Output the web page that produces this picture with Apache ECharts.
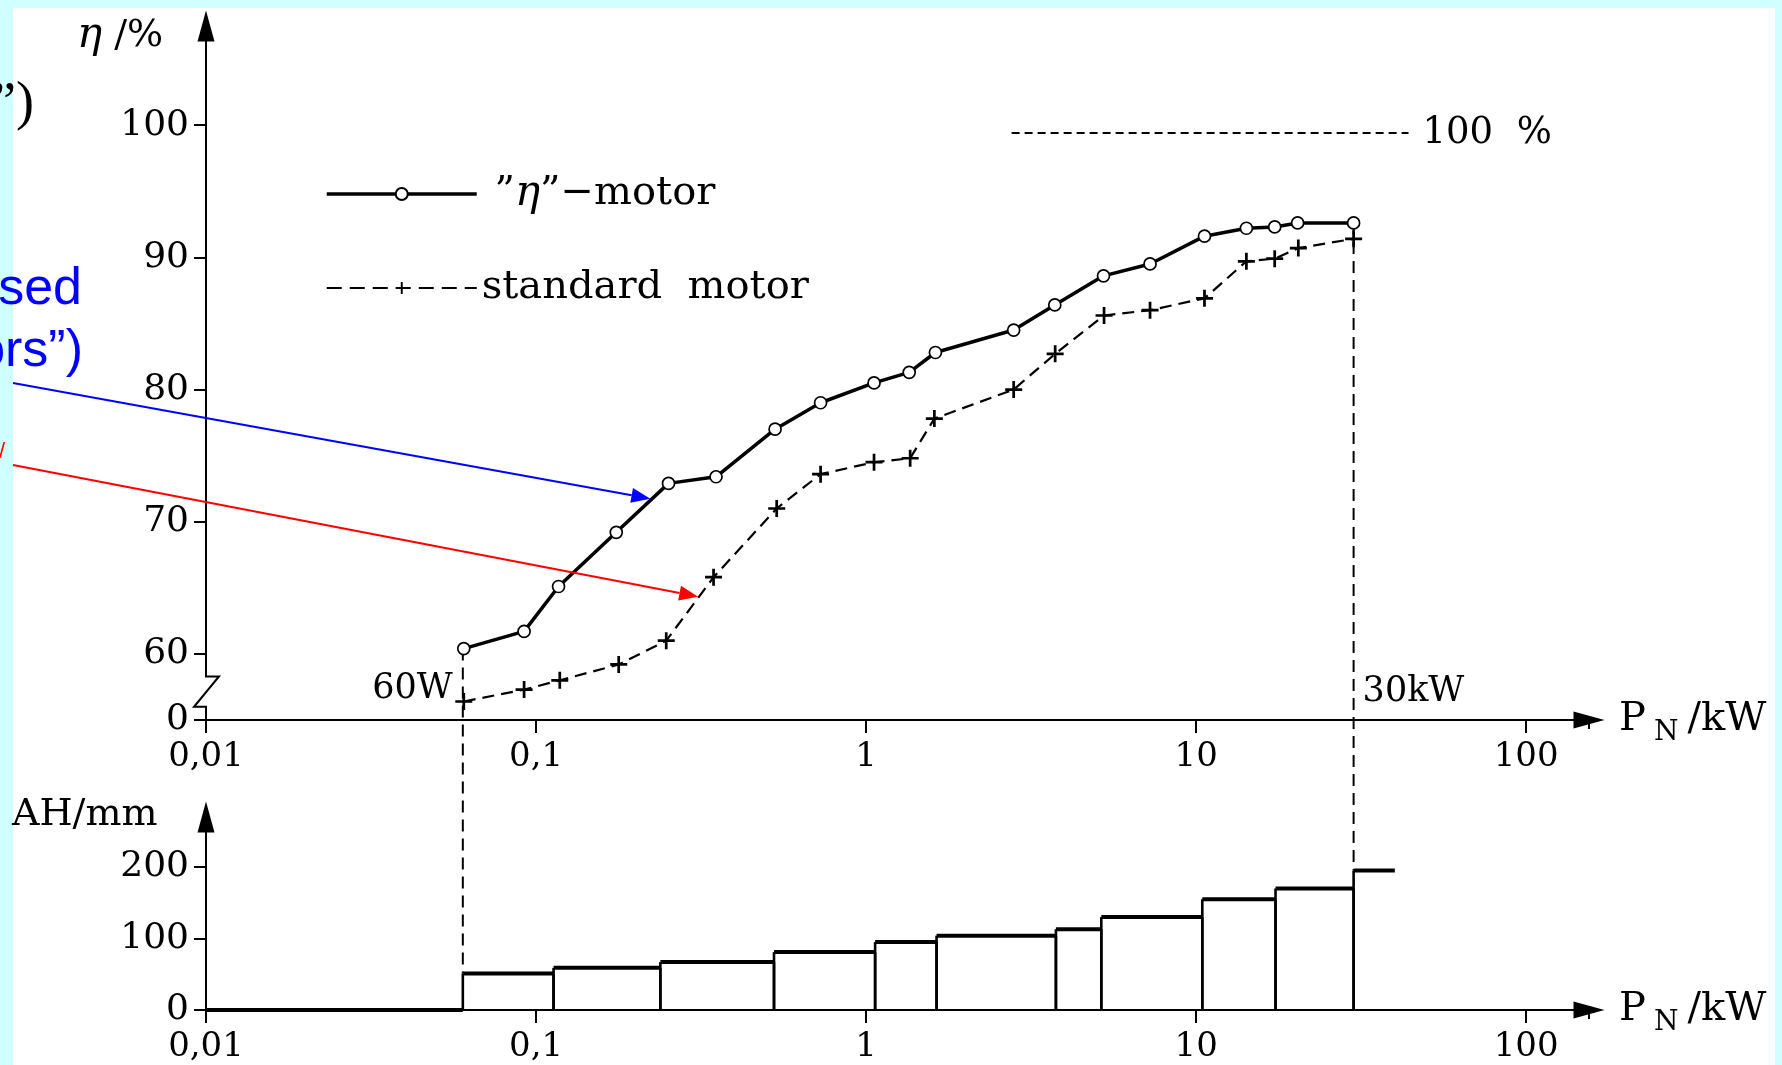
<!DOCTYPE html>
<html><head><meta charset="utf-8">
<script src="https://cdn.jsdelivr.net/npm/echarts@6/dist/echarts.min.js"></script>
<style>html,body{margin:0;padding:0;background:#d0ffff}#c{width:1782px;height:1065px}</style>
</head><body><div id="c"></div>
<script>
// ---- data ----
const etaPower  = [0.0604,0.092,0.117,0.175,0.252,0.351,0.530,0.728,1.057,1.351,1.622,2.80,3.73,5.24,7.25,10.6,14.2,17.3,20.3,30];
const etaValues = [60.4,61.7,65.1,69.2,72.9,73.4,77.0,79.0,80.5,81.3,82.8,84.5,86.4,88.6,89.5,91.6,92.2,92.3,92.6,92.6];
const stdPower  = [0.0604,0.092,0.118,0.178,0.248,0.345,0.536,0.728,1.057,1.36,1.61,2.80,3.74,5.26,7.25,10.6,14.2,17.3,20.4,30];
const stdValues = [56.4,57.3,58.0,59.2,61.0,65.8,71.0,73.6,74.5,74.8,77.8,80.0,82.7,85.6,86.0,86.9,89.7,89.9,90.7,91.4];
const ahEdges   = [0.01,0.06,0.113,0.238,0.526,1.065,1.635,3.76,5.16,10.44,17.4,30,40];
const ahValues  = [0,51,59,67,81,95,104,113,130,155,170,195];
const xTickLabels = {'-2':'0,01','-1':'0,1','0':'1','1':'10','2':'100'};
const etaTicks = [55,60,70,80,90,100];   // 55 is the broken-axis origin, labelled "0"
const ahTicks  = [0,100,200];
const refPower = [2.76,44];
const refValue = 99.4;
const minPower = 0.06, maxPower = 30;
const xMax = 155;

const FONT = "'DejaVu Serif',serif";
const chart = echarts.init(document.getElementById('c'), null, {renderer:'canvas', width:1782, height:1065});

const xFmt = v => { const l = Math.round(Math.log10(v)*1000)/1000; return xTickLabels[String(l)] ?? ''; };
const axisLineStyle = {color:'#000', width:2};
function xAx(g){
  return {type:'log', logBase:10, gridIndex:g, min:0.01, max:xMax,
    axisLine:{show:true, onZero:false, lineStyle:axisLineStyle, symbol:['none','triangle'], symbolSize:[17,31]},
    axisTick:{show:true, length:13, lineStyle:axisLineStyle},
    axisLabel:{formatter:xFmt, fontFamily:FONT, fontSize:34, color:'#000', margin:20},
    splitLine:{show:false}, minorTick:{show:false}, minorSplitLine:{show:false},
    name:'P{s|N}/kW', nameLocation:'end', nameGap:30,
    nameTextStyle:{fontFamily:FONT, fontSize:40, color:'#000', lineHeight:54,
      rich:{s:{fontFamily:FONT, fontSize:28, color:'#000', verticalAlign:'bottom', lineHeight:28, padding:[0,9,0,8]}}}
  };
}
function yAx(g, min, max, ticks, fmt){
  return {type:'value', gridIndex:g, min:min, max:max,
    axisLine:{show:true, onZero:false, lineStyle:axisLineStyle, symbol:['none','triangle'], symbolSize:[17,31]},
    axisTick:{show:true, customValues:ticks, length:12, lineStyle:axisLineStyle},
    axisLabel:{customValues:ticks, formatter:fmt, fontFamily:FONT, fontSize:36, color:'#000', margin:17},
    splitLine:{show:false}};
}
const plusPath = 'path://M4.2,0H5.8V4.2H10V5.8H5.8V10H4.2V5.8H0V4.2H4.2Z';

chart.setOption({
  animation:false,
  backgroundColor:'#d0ffff',
  grid:[{left:206, top:26, width:1383, height:694, containLabel:false, outerBoundsMode:'none'},
        {left:206, top:817, width:1383, height:193, containLabel:false, outerBoundsMode:'none'}],
  xAxis:[xAx(0), xAx(1)],
  yAxis:[yAx(0,55,107.5,etaTicks,v=>v===55?'0':String(v)), yAx(1,0,270,ahTicks,v=>String(v))],
  legend:{data:[{name:'eta', lineStyle:{width:3.5}}, {name:'std', lineStyle:{width:2.2, type:[15,8]}}],
    orient:'vertical', left:325, top:173, itemWidth:150, itemHeight:15, itemGap:53,
    padding:0, selectedMode:false,
    formatter:n => n==='eta' ? ' ”{i|η}”−motor' : 'standard  motor',
    textStyle:{fontFamily:FONT, fontSize:40, color:'#000', lineHeight:40,
      rich:{i:{fontFamily:FONT, fontStyle:'italic', fontSize:42, color:'#000', lineHeight:40}}}},
  series:[
    {name:'eta', type:'line', xAxisIndex:0, yAxisIndex:0, z:4,
     data:etaPower.map((p,i)=>[p,etaValues[i]]),
     symbol:'circle', symbolSize:12, showAllSymbol:true,
     itemStyle:{color:'#fff', borderColor:'#000', borderWidth:1.7},
     lineStyle:{color:'#000', width:3.5}, emphasis:{disabled:true}},
    {name:'std', type:'line', xAxisIndex:0, yAxisIndex:0, z:3,
     data:stdPower.map((p,i)=>[p,stdValues[i]]),
     symbol:plusPath, symbolSize:17, showAllSymbol:true,
     itemStyle:{color:'#000'},
     lineStyle:{color:'#000', width:2.2, type:[12,7]}, emphasis:{disabled:true}},
    {name:'ref', type:'line', xAxisIndex:0, yAxisIndex:0, z:3,
     data:refPower.map(p=>[p,refValue]), symbol:'none',
     lineStyle:{color:'#000', width:2, type:[8,5]},
     endLabel:{show:true, formatter:'100  %', fontFamily:FONT, fontSize:37, color:'#000', distance:14},
     emphasis:{disabled:true}},
    {name:'ah', type:'custom', xAxisIndex:1, yAxisIndex:1, z:3,
     data:ahValues.map((v,i)=>[ahEdges[i], ahEdges[i+1], v]),
     encode:{x:[0,1], y:2},
     renderItem:(params, api)=>{
       const x0=api.value(0), x1=api.value(1), h=api.value(2);
       const l0=api.coord([x0,0]), lh=api.coord([x0,h]), r0=api.coord([x1,0]), rh=api.coord([x1,h]);
       const last = params.dataIndex === ahValues.length-1;
       const ch=[];
       const vs={stroke:'#000', lineWidth:2.6};
       if(h>0) ch.push({type:'line', shape:{x1:l0[0],y1:l0[1],x2:lh[0],y2:lh[1]}, style:vs});
       if(h>0 && !last) ch.push({type:'line', shape:{x1:r0[0],y1:r0[1],x2:rh[0],y2:rh[1]}, style:vs});
       ch.push({type:'line', shape:{x1:lh[0],y1:lh[1],x2:rh[0],y2:rh[1]}, style:{stroke:'#000', lineWidth:4}});
       return {type:'group', children:ch};
     }}
  ]
});

// ---- decorations computed from the axes ----
const c0 = p => chart.convertToPixel({xAxisIndex:0, yAxisIndex:0}, p);
const c1 = p => chart.convertToPixel({xAxisIndex:1, yAxisIndex:1}, p);
function arrow(from, to, color){
  const dx=to[0]-from[0], dy=to[1]-from[1], L=Math.hypot(dx,dy), ux=dx/L, uy=dy/L;
  const hl=19, hw=7.5;
  const b=[to[0]-ux*hl, to[1]-uy*hl];
  return [
    {type:'line', z:50, shape:{x1:from[0],y1:from[1],x2:b[0],y2:b[1]}, style:{stroke:color, lineWidth:2}},
    {type:'polygon', z:50, shape:{points:[to,[b[0]-uy*hw,b[1]+ux*hw],[b[0]+uy*hw,b[1]-ux*hw]]}, style:{fill:color}}
  ];
}
const g1a=c0([minPower, etaValues[0]]), g1b=c1([minPower, ahValues[1]]);
const g2a=c0([maxPower, etaValues[etaValues.length-1]]), g2b=c1([maxPower, ahValues[ahValues.length-1]]);
const ax=c0([0.01,55]);
const zt=c0([0.01,58.3]), zb=c0([0.01,56.0]);
const endU=c0([xMax,55]), endL=c1([xMax,0]);
const dash={stroke:'#000', lineWidth:2, lineDash:[12,7]};
const graphics=[
  {type:'rect', z:-100, shape:{x:13,y:8,width:1762,height:1057}, style:{fill:'#fff'}},
  {type:'line', z:2, shape:{x1:g1a[0],y1:g1a[1],x2:g1b[0],y2:g1b[1]}, style:dash},
  {type:'line', z:2, shape:{x1:g2a[0],y1:g2a[1],x2:g2b[0],y2:g2b[1]}, style:dash},
  // hide the extent tick stub under the axis arrows
  {type:'rect', z:20, shape:{x:endU[0]-3, y:endU[1]+9, width:6, height:7}, style:{fill:'#fff'}},
  {type:'rect', z:20, shape:{x:endL[0]-3, y:endL[1]+9, width:6, height:7}, style:{fill:'#fff'}},
  // axis break
  {type:'rect', z:20, shape:{x:ax[0]-4, y:zt[1], width:8, height:zb[1]-zt[1]}, style:{fill:'#fff'}},
  {type:'polyline', z:21, shape:{points:[[ax[0],zt[1]-1],[ax[0],zt[1]],[ax[0]+13,zt[1]],[ax[0]-12,zb[1]],[ax[0],zb[1]],[ax[0],zb[1]+1]]},
   style:{stroke:'#000', lineWidth:2, fill:null}},
  {type:'text', z:30, style:{text:'60W', x:g1a[0]-10, y:689, align:'right', verticalAlign:'middle', font:"35px "+FONT, fill:'#000'}},
  {type:'text', z:30, style:{text:'30kW', x:g2a[0]+9, y:692, align:'left', verticalAlign:'middle', font:"35px "+FONT, fill:'#000'}},
  {type:'text', z:30, style:{text:'{i|η} /%', x:77, y:36, align:'left', verticalAlign:'middle', font:"38px "+FONT, fill:'#000',
    rich:{i:{font:"italic 42px "+FONT, fill:'#000'}}}},
  {type:'text', z:30, style:{text:'AH/mm', x:12, y:815, align:'left', verticalAlign:'middle', font:"38px "+FONT, fill:'#000'}},
  // clipped slide fragments at left
  {type:'text', z:30, style:{text:'”)', x:34, y:78, align:'right', verticalAlign:'top', font:"54px 'Liberation Serif',serif", fill:'#000'}},
  {type:'text', z:30, style:{text:'used', x:82, y:264, align:'right', verticalAlign:'top', font:"52px 'Liberation Sans',Arial,sans-serif", fill:'#0000ff'}},
  {type:'text', z:30, style:{text:'motors”)', x:83, y:326, align:'right', verticalAlign:'top', font:"52px 'Liberation Sans',Arial,sans-serif", fill:'#0000ff'}},
  {type:'text', z:30, style:{text:'/', x:5, y:441, align:'right', verticalAlign:'top', font:"22px 'Liberation Sans',Arial,sans-serif", fill:'#ff0000'}},
  ...arrow([13,383], c0([0.222,71.74]), '#0000ff'),
  ...arrow([13,465], c0([0.310,64.33]), '#ff0000')
];
chart.setOption({graphic:{elements:graphics}});
</script>
</body></html>
